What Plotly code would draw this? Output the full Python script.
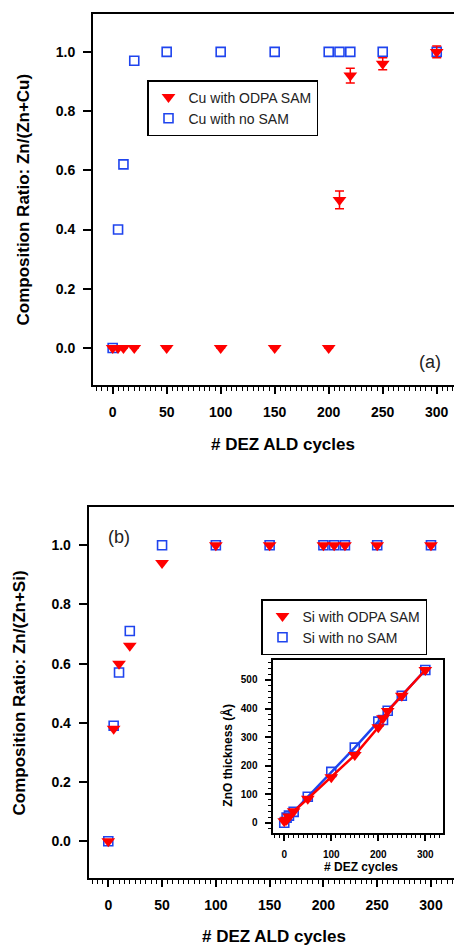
import plotly.graph_objects as go

W, H = 454, 945

# ---------------- data ----------------
cycles = [0, 5, 10, 20, 50, 100, 150, 200, 210, 220, 250, 300]

cu_odpa = [0, 0, 0, 0, 0, 0, 0, 0, 0.50, 0.92, 0.96, 1.00]
cu_odpa_err = [None, None, None, None, None, None, None, None, 0.03, 0.025, 0.02, 0.02]
cu_nosam = [0, 0.40, 0.62, 0.97, 1.0, 1.0, 1.0, 1.0, 1.0, 1.0, 1.0, 1.0]

si_odpa = [0, 0.38, 0.60, 0.66, 0.94, 1.0, 1.0, 1.0, 1.0, 1.0, 1.0, 1.0]
si_nosam = [0, 0.39, 0.57, 0.71, 1.0, 1.0, 1.0, 1.0, 1.0, 1.0, 1.0, 1.0]

thick_odpa = [5, 10, 22, 40, 84, 159, 237, 334, 366, 391, 445, 535]
thick_nosam = [0, 18, 25, 38, 91, 178, 263, 354, 360, 392, 445, 535]

ratio_ticks = [0.0, 0.2, 0.4, 0.6, 0.8, 1.0]
cycle_ticks = [0, 50, 100, 150, 200, 250, 300]
inset_xticks = [0, 100, 200, 300]
inset_yticks = [0, 100, 200, 300, 400, 500]

RED = "#ff0000"
BLUE = "#1f44ee"
FONT = "Liberation Sans, Arial, sans-serif"


def px_x(p):
    return p / W


def px_y(p):
    return 1 - p / H


fig = go.Figure()

# ---- top panel (Cu) ----
fig.add_trace(go.Scatter(
    x=cycles, y=cu_nosam, mode="markers", name="Cu with no SAM",
    marker=dict(symbol="square-open", size=9, color=BLUE, line=dict(width=1.6, color=BLUE)),
    xaxis="x", yaxis="y", legend="legend", legendrank=2))
fig.add_trace(go.Scatter(
    x=cycles, y=cu_odpa, mode="markers", name="Cu with ODPA SAM",
    marker=dict(symbol="triangle-down", size=12, color=RED, line=dict(width=0)),
    error_y=dict(type="data", array=cu_odpa_err, visible=True, color=RED, thickness=1.5, width=4.5),
    xaxis="x", yaxis="y", legend="legend", legendrank=1))

# ---- bottom panel (Si) ----
fig.add_trace(go.Scatter(
    x=cycles, y=si_nosam, mode="markers", name="Si with no SAM",
    marker=dict(symbol="square-open", size=9, color=BLUE, line=dict(width=1.6, color=BLUE)),
    xaxis="x2", yaxis="y2", legend="legend2", legendrank=2))
fig.add_trace(go.Scatter(
    x=cycles, y=si_odpa, mode="markers", name="Si with ODPA SAM",
    marker=dict(symbol="triangle-down", size=12, color=RED, line=dict(width=0)),
    xaxis="x2", yaxis="y2", legend="legend2", legendrank=1))

# ---- inset ----
fig.add_trace(go.Scatter(
    x=cycles, y=thick_nosam, mode="lines+markers", name="Si with no SAM",
    line=dict(color=BLUE, width=2.5),
    marker=dict(symbol="square-open", size=9, color=BLUE, line=dict(width=1.6, color=BLUE)),
    xaxis="x3", yaxis="y3", showlegend=False))
fig.add_trace(go.Scatter(
    x=cycles, y=thick_odpa, mode="lines+markers", name="Si with ODPA SAM",
    line=dict(color=RED, width=2.5),
    marker=dict(symbol="triangle-down", size=12, color=RED, line=dict(width=0)),
    xaxis="x3", yaxis="y3", showlegend=False))

tickfont = dict(family=FONT, size=14, color="black", weight="bold")
small_tickfont = dict(family=FONT, size=10, color="black", weight="bold")

main_x = dict(
    tickvals=cycle_ticks, ticks="outside", ticklen=7, tickwidth=1.5, tickcolor="black",
    showline=True, linewidth=2, linecolor="black", mirror=True,
    showgrid=False, zeroline=False, tickfont=tickfont, ticklabelstandoff=6,
    minor=dict(dtick=5, tick0=0, ticks="outside", ticklen=4, tickwidth=1, tickcolor="black", showgrid=False),
)
main_y = dict(
    tickvals=ratio_ticks, tickformat=".1f", ticks="outside", ticklen=8, tickwidth=1.5,
    tickcolor="black", showline=True, linewidth=2, linecolor="black", mirror=False,
    showgrid=False, zeroline=False, tickfont=tickfont, ticklabelstandoff=5,
    range=[-0.125, 1.128],
)

legend_common = dict(
    xanchor="left", yanchor="top",
    bgcolor="white", bordercolor="black", borderwidth=1.5,
    font=dict(family=FONT, size=14, color="#222"), traceorder="normal",
    tracegroupgap=0, itemwidth=30,
)

fig.update_layout(
    width=W, height=H, margin=dict(l=0, r=0, t=0, b=0),
    paper_bgcolor="white", plot_bgcolor="rgba(0,0,0,0)",
    font=dict(family=FONT, color="black"),
    xaxis=dict(main_x, domain=[px_x(93), 1], range=[-18.2, 316], anchor="y"),
    yaxis=dict(main_y, domain=[px_y(385), px_y(14)], anchor="x"),
    xaxis2=dict(main_x, domain=[px_x(88.7), 1], range=[-18.2, 321.4], anchor="y2"),
    yaxis2=dict(main_y, domain=[px_y(878.3), px_y(507.3)], anchor="x2"),
    xaxis3=dict(
        tickvals=inset_xticks, ticks="outside", ticklen=6, tickwidth=1.5, tickcolor="black",
        showline=True, linewidth=2, linecolor="black", mirror=True,
        showgrid=False, zeroline=False, tickfont=small_tickfont, ticklabelstandoff=5,
        minor=dict(dtick=10, tick0=0, ticks="outside", ticklen=3, tickwidth=1, tickcolor="black", showgrid=False),
        domain=[px_x(272.5), px_x(443)], range=[-25, 337.6], anchor="y3"),
    yaxis3=dict(
        tickvals=inset_yticks, ticks="outside", ticklen=6, tickwidth=1.5, tickcolor="black",
        showline=True, linewidth=2, linecolor="black", mirror=True,
        showgrid=False, zeroline=False, tickfont=small_tickfont, ticklabelstandoff=5,
        minor=dict(dtick=20, tick0=0, ticks="outside", ticklen=3, tickwidth=1, tickcolor="black", showgrid=False),
        domain=[px_y(833), px_y(660)], range=[-36, 570], anchor="x3"),
    legend=dict(legend_common, x=px_x(147), y=px_y(80)),
    legend2=dict(legend_common, x=px_x(261), y=px_y(599)),
    showlegend=True,
)

bold17 = dict(family=FONT, size=17, color="black", weight="bold")
bold12 = dict(family=FONT, size=12, color="black", weight="bold")
annotations = [
    dict(text="Composition Ratio: Zn/(Zn+Cu)", x=px_x(22.5), y=px_y(200), textangle=-90, font=bold17),
    dict(text="# DEZ ALD cycles", x=px_x(283.3), y=px_y(444), font=bold17),
    dict(text="Composition Ratio: Zn/(Zn+Si)", x=px_x(19.2), y=px_y(693.3), textangle=-90, font=bold17),
    dict(text="# DEZ ALD cycles", x=px_x(274.2), y=px_y(936.7), font=bold17),
    dict(text="ZnO thickness (Å)", x=px_x(226.7), y=px_y(755), textangle=-90, font=bold12),
    dict(text="# DEZ cycles", x=px_x(361), y=px_y(866.5), font=bold12),
    dict(text="(a)", x=px_x(430), y=px_y(362), font=dict(family=FONT, size=18, color="#222")),
    dict(text="(b)", x=px_x(119), y=px_y(536.7), font=dict(family=FONT, size=18, color="#222")),
]
for a in annotations:
    fig.add_annotation(xref="paper", yref="paper", showarrow=False,
                       xanchor="center", yanchor="middle", **a)

fig.write_html("out.html")
